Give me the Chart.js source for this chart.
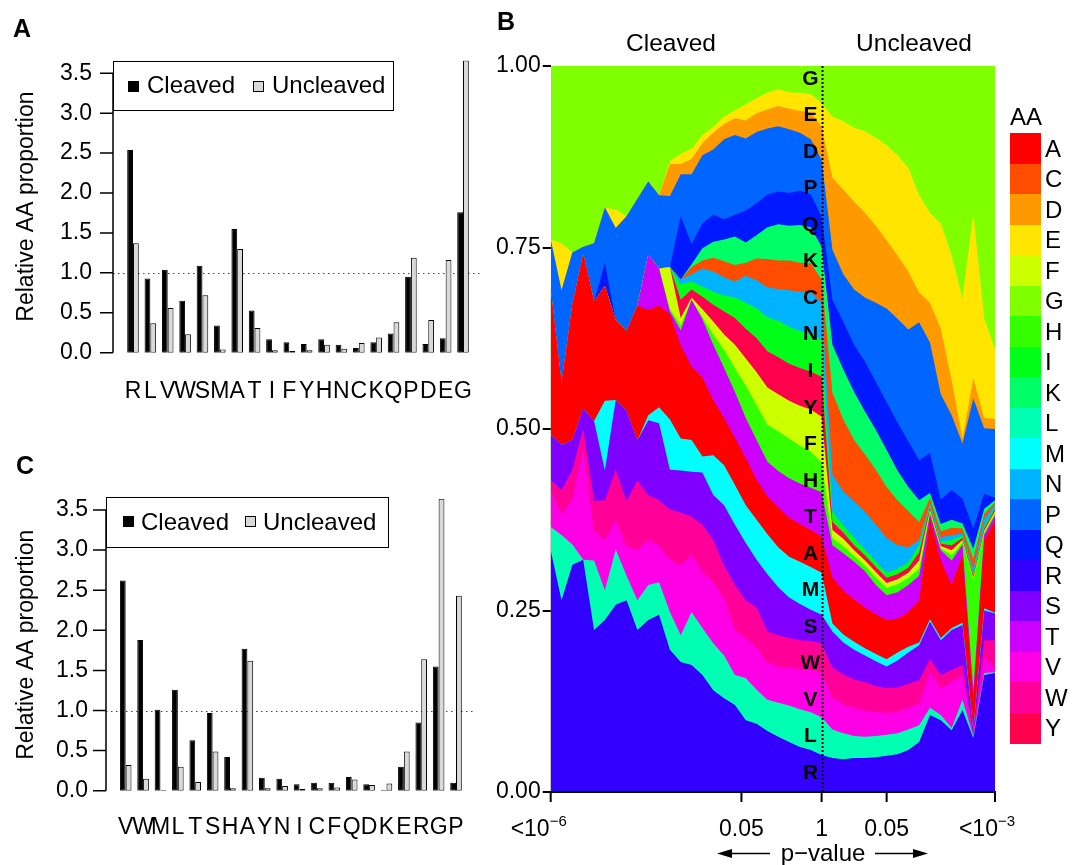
<!DOCTYPE html>
<html lang="en">
<head>
<meta charset="utf-8">
<title>Amino-acid composition of cleaved and uncleaved sites</title>
<script src="https://cdn.jsdelivr.net/npm/chart.js@4.4.1/dist/chart.umd.min.js"></script>
<style>
  html, body { margin:0; padding:0; background:#fff; }
  body { position:relative; width:1079px; height:865px; overflow:hidden;
         font-family:"Liberation Sans", Arial, Helvetica, sans-serif; color:#000; }
  canvas { position:absolute; left:0; top:0; }
  .t { position:absolute; white-space:nowrap; font-size:24px; line-height:24px; }
  .letter { font-weight:bold; font-size:25px; line-height:25px; }
  .box { position:absolute; border:1px solid #000; box-sizing:border-box; }
  .sw { position:absolute; width:11px; height:11px; box-sizing:border-box; border:1px solid #000; }
  .ctr { transform:translateX(-50%); }
</style>
</head>
<body>
<canvas id="chartA" width="1079" height="865"></canvas>
<canvas id="chartC" width="1079" height="865"></canvas>
<canvas id="chartB" width="1079" height="865"></canvas>

<div class="t letter" style="left:13px;top:16px">A</div>
<div class="t letter" style="left:497px;top:9px">B</div>
<div class="t letter" style="left:16px;top:453px">C</div>

<!-- legend of panel A -->
<div class="box" style="left:113px;top:61px;width:281px;height:50px"></div>
<div class="sw" style="left:128px;top:81px;background:#000"></div>
<div class="t" style="left:147px;top:73px">Cleaved</div>
<div class="sw" style="left:253px;top:81px;background:#d9d9d9"></div>
<div class="t" style="left:272px;top:73px">Uncleaved</div>

<!-- legend of panel C -->
<div class="box" style="left:106px;top:497px;width:283px;height:51px"></div>
<div class="sw" style="left:123px;top:516px;background:#000"></div>
<div class="t" style="left:141px;top:510px">Cleaved</div>
<div class="sw" style="left:245px;top:516px;background:#d9d9d9"></div>
<div class="t" style="left:263px;top:510px">Uncleaved</div>

<!-- panel B headings -->
<div class="t ctr" style="left:671px;top:31px;font-size:24.5px">Cleaved</div>
<div class="t ctr" style="left:914px;top:31px;font-size:24.5px">Uncleaved</div>
<div class="t ctr" style="left:823px;top:841px">p&minus;value</div>

<!-- colour key of panel B -->
<div class="t" style="left:1010px;top:105px">AA</div>
<div id="aaLegend"></div>

<script>
Chart.defaults.font.family = '"Liberation Sans", Arial, Helvetica, sans-serif';
Chart.defaults.color = '#000';

// ---------- Panel A: relative amino-acid proportion, first position ----------
const aaA        = ['R','L','V','W','S','M','A','T','I','F','Y','H','N','C','K','Q','P','D','E','G'];
const cleavedA   = [2.54,0.93,1.04,0.65,1.09,0.34,1.55,0.53,0.17,0.13,0.11,0.17,0.10,0.06,0.13,0.24,0.95,0.11,0.18,1.76];
const uncleavedA = [1.37,0.37,0.56,0.23,0.72,0.04,1.30,0.31,0.03,0.02,0.03,0.10,0.05,0.12,0.19,0.38,1.19,0.41,1.16,3.66];

// ---------- Panel C: relative amino-acid proportion, second position ----------
const aaC        = ['V','W','M','L','T','S','H','A','Y','N','I','C','F','Q','D','K','E','R','G','P'];
const cleavedC   = [2.62,1.88,1.01,1.26,0.63,0.97,0.42,1.77,0.16,0.15,0.08,0.10,0.10,0.17,0.08,0.01,0.30,0.85,1.55,0.10];
const uncleavedC = [0.32,0.15,0.01,0.30,0.11,0.49,0.03,1.62,0.03,0.06,0.02,0.03,0.04,0.14,0.07,0.09,0.49,1.64,3.64,2.43];

const barTicks = [0, 0.5, 1, 1.5, 2, 2.5, 3, 3.5];
const refLevel = 1;

// ---------- Panel B: AA proportions along the p-value axis ----------
const binPos = [0,1,2,3,4,5,6,7,8,9,10,11,12,13,14,15,16,17,18,19,20,21,22,23,24,25,26,27,28,29,30,31,32,33,34,35,36,37,38,39,40,41];
const xTickPos  = [0, 17.6, 25, 31, 41];
const xTickText = [['<10','\u22126'], ['0.05',''], ['1',''], ['0.05',''], ['<10','\u22123']];
const dividerPos = 25;

const stackOrder  = ['R','L','V','W','S','M','A','T','H','F','Y','I','N','C','K','Q','P','D','E','G'];
const legendOrder = ['A','C','D','E','F','G','H','I','K','L','M','N','P','Q','R','S','T','V','W','Y'];
const aaColors = {
  A:'#FF0000', C:'#FF4D00', D:'#FF9900', E:'#FFE500', F:'#CCFF00', G:'#80FF00', H:'#33FF00',
  I:'#00FF19', K:'#00FF66', L:'#00FFB2', M:'#00FFFF', N:'#00B3FF', P:'#0066FF', Q:'#0019FF',
  R:'#3300FF', S:'#8000FF', T:'#CC00FF', V:'#FF00E6', W:'#FF0099', Y:'#FF004D'
};

const propR = [.333,.264,.313,.320,.223,.237,.258,.264,.223,.237,.244,.196,.179,.175,.161,.140,.129,.120,.099,.094,.084,.076,.069,.062,.058,.051,.047,.045,.047,.047,.048,.050,.052,.058,.069,.106,.099,.085,.113,.074,.161,.164];
const propL = [.032,.090,.028,0,.096,.041,.076,.034,.041,.048,.045,.052,.037,.073,.065,.065,.059,.041,.058,.047,.043,.047,.050,.052,.052,.052,.039,.036,.030,.029,.029,.029,.029,.028,.023,.010,.007,.003,.014,.003,.003,.001];
const propV = [.051,.028,.062,.152,.041,.069,.041,.041,.069,.062,.051,.072,.096,.079,.077,.084,.079,.062,.055,.058,.051,.050,.052,.055,.058,.061,.044,.040,.039,.036,.033,.030,.030,.030,.030,.050,.037,.063,.034,.001,.022,.007];
const propW = [.014,.034,.041,.028,.041,.055,.069,.062,.096,.062,.062,.069,.073,.052,.065,.058,.045,.062,.052,.055,.043,.043,.041,.040,.040,.041,.041,.041,.039,.039,.036,.034,.033,.033,.032,.017,.018,.017,.014,.003,.023,.037];
const propS = [.062,.062,.041,.028,.110,.041,.096,.124,.055,.103,.106,.055,.058,.062,.072,.062,.083,.083,.079,.066,.079,.066,.056,.050,.043,.039,.050,.044,.041,.037,.034,.030,.037,.043,.048,.052,.048,.055,.055,.004,.041,.037];
const propM = [0,0,0,0,0,.096,0,0,0,.007,.022,.069,.044,.044,.022,.055,.055,.055,.052,.055,.055,.055,.056,.058,.059,.058,.011,.011,.011,.010,.010,.010,.011,.008,.004,.003,.003,.003,.003,.001,.003,.001];
const propA = [.200,.085,.186,.213,.165,.158,.110,.110,.186,.145,.140,.145,.128,.101,.109,.076,.065,.065,.065,.055,.052,.055,.054,.052,.051,.050,.063,.061,.058,.056,.055,.054,.047,.048,.058,.138,.107,.059,.094,.040,.094,.127];
const propT = [0,0,0,0,0,0,0,0,0,.076,.051,.004,.021,.092,.080,.076,.069,.063,.055,.055,.048,.050,.054,.056,.058,.061,.045,.051,.052,.050,.040,.034,.036,.037,.034,.007,.014,.034,.014,.014,.007,.007];
const propH = [0,0,0,0,0,0,0,0,0,0,0,.003,.007,0,.003,.014,.025,.033,.045,.048,.051,.055,.055,.052,.050,.041,.010,.010,.008,.008,.010,.010,.011,.010,.010,.003,.003,.007,.003,.152,.003,.003];
const propF = [0,0,0,0,0,0,0,0,0,0,0,.058,.010,.003,.011,.018,.021,.032,.037,.045,.051,.051,.052,.055,.058,.063,.011,.010,.008,.007,.008,.007,.007,.007,.011,.003,.003,.007,.003,.003,.003,.003];
const propY = [0,0,0,0,0,0,0,0,0,0,0,0,.025,.011,.017,.023,.032,.037,.041,.047,.050,.051,.051,.052,.052,.055,.011,.008,.007,.007,.007,.007,.007,.007,.011,.003,.003,.007,.003,.003,.003,.003];
const propI = [0,0,0,0,0,0,0,0,0,0,0,0,.021,.011,.014,.018,.022,.028,.036,.041,.047,.050,.051,.051,.051,.051,.014,.010,.010,.008,.007,.007,.007,.007,.010,.003,.003,.007,.003,.003,.003,.003];
const propN = [0,0,0,0,0,0,0,0,0,0,0,0,.007,.010,.025,.028,.025,.022,.037,.039,.041,.044,.050,.054,.058,.051,.051,.047,.050,.052,.051,.048,.033,.021,.007,.003,.006,.007,.003,.006,.010,.003];
const propC = [0,0,0,0,0,0,0,0,0,0,0,0,0,.010,.011,.019,.022,.023,.018,.030,.039,.039,.041,.040,.040,.032,.113,.099,.085,.079,.076,.070,.062,.050,.025,.007,.008,.010,.007,.014,.007,.003];
const propK = [0,0,0,0,0,0,0,0,0,0,0,0,0,.004,.017,.022,.030,.039,.028,.032,.044,.050,.048,.052,.050,.045,.066,.069,.066,.059,.055,.051,.041,.033,.030,.007,.010,.011,.007,.014,.007,.003];
const propQ = [0,0,0,0,0,.032,0,0,0,0,0,0,.087,.028,.034,.037,.028,.030,.044,.044,.045,.045,.045,.047,.045,.041,.062,.066,.065,.069,.066,.066,.066,.063,.055,.055,.034,.041,.034,.028,.021,.003];
const propP = [.069,.128,.072,.010,.080,.076,.127,.158,.147,.101,.101,.098,.058,.096,.094,.090,.110,.110,.099,.098,.091,.090,.088,.080,.076,.079,.069,.065,.076,.088,.109,.129,.143,.154,.190,.152,.145,.103,.076,.179,.090,.095];
const propD = [0,0,0,0,0,0,0,0,0,0,0,.044,.014,.021,.017,.023,.021,.023,.025,.026,.026,.028,.028,.030,.037,.045,.099,.117,.121,.117,.106,.094,.087,.080,.041,.055,.090,.048,.007,.028,.014,.014];
const propE = [0,.065,0,0,0,0,.025,0,0,0,0,.004,.014,.014,.011,.008,.010,.011,.022,.021,.023,.023,.023,.025,.025,.033,.084,.094,.102,.112,.121,.131,.138,.143,.134,.124,.145,.172,.193,.227,.138,.096];
const propG = [.241,.246,.259,.251,.246,.197,.200,.209,.185,.161,.180,.133,.123,.116,.097,.086,.072,.063,.055,.046,.039,.034,.038,.039,.041,.053,.072,.078,.087,.092,.101,.111,.125,.142,.180,.204,.219,.263,.322,.205,.349,.392];

const propByAA = { R:propR, L:propL, V:propV, W:propW, S:propS, M:propM, A:propA, T:propT, H:propH, F:propF,
                   Y:propY, I:propI, N:propN, C:propC, K:propK, Q:propQ, P:propP, D:propD, E:propE, G:propG };

// ---------- bar panels: y axis line, tick marks and reference line ----------
const barAxisDecor = {
  id: 'barAxisDecor',
  beforeDatasetsDraw(chart, args, opts) {
    const { ctx, scales: { y } } = chart;
    const py = Math.round(y.getPixelForValue(refLevel)) + 0.5;
    ctx.save();
    ctx.strokeStyle = '#444';
    ctx.lineWidth = 1;
    ctx.setLineDash([1.5, 3.5]);
    ctx.beginPath();
    ctx.moveTo(opts.axisX, py);
    ctx.lineTo(opts.lineEnd, py);
    ctx.stroke();
    ctx.restore();
  },
  afterDraw(chart, args, opts) {
    const { ctx, scales: { y } } = chart;
    const ax = opts.axisX;
    ctx.save();
    ctx.strokeStyle = '#000';
    ctx.lineWidth = 1.5;
    ctx.beginPath();
    ctx.moveTo(ax, y.getPixelForValue(barTicks[barTicks.length - 1]));
    ctx.lineTo(ax, y.getPixelForValue(barTicks[0]));
    barTicks.forEach(v => {
      const p = y.getPixelForValue(v);
      ctx.moveTo(ax - opts.tickLen, p);
      ctx.lineTo(ax, p);
    });
    ctx.stroke();
    ctx.restore();
  }
};

function makeBarChart(id, labels, cleaved, uncleaved, frame) {
  const yMax = Math.max(...cleaved, ...uncleaved);
  return new Chart(document.getElementById(id), {
    type: 'bar',
    data: {
      labels,
      datasets: [
        { label: 'Cleaved', data: cleaved, backgroundColor: '#000', borderColor: '#000', borderWidth: 1, borderSkipped: false },
        { label: 'Uncleaved', data: uncleaved, backgroundColor: '#d9d9d9', borderColor: '#000', borderWidth: 1, borderSkipped: false }
      ]
    },
    options: {
      responsive: false, animation: false, devicePixelRatio: 1, events: [],
      layout: { padding: { left: 0, top: frame.top, right: 1079 - frame.right, bottom: 865 - frame.bottom - 60 } },
      datasets: { bar: { categoryPercentage: 2 / 3, barPercentage: 1 } },
      plugins: { legend: { display: false }, tooltip: { enabled: false }, barAxisDecor: frame },
      scales: {
        x: {
          grid: { display: false, drawTicks: false }, border: { display: false },
          ticks: { font: { size: 23 }, padding: frame.labelGap, maxRotation: 0, minRotation: 0, autoSkip: false },
          afterFit: s => { s.height = 60; }
        },
        y: {
          min: 0, max: yMax,
          grid: { display: false, drawTicks: false }, border: { display: false },
          ticks: { font: { size: 23 }, padding: frame.left - frame.labelRight, callback: v => v.toFixed(1) },
          afterBuildTicks: s => { s.ticks = barTicks.map(v => ({ value: v })); },
          afterFit: s => { s.width = frame.left; },
          title: { display: true, text: 'Relative AA proportion', font: { size: 23 }, padding: { top: 13, bottom: 0 } }
        }
      }
    },
    plugins: [barAxisDecor]
  });
}

makeBarChart('chartA', aaA, cleavedA, uncleavedA,
  { left: 124.3, right: 471.7, top: 60.5, bottom: 352.7, axisX: 113, lineEnd: 483, tickLen: 13, labelRight: 92, labelGap: 25 });
makeBarChart('chartC', aaC, cleavedC, uncleavedC,
  { left: 117, right: 464.7, top: 498.8, bottom: 790.7, axisX: 106, lineEnd: 475, tickLen: 13, labelRight: 88, labelGap: 23 });

// ---------- panel B: divider, residue letters, p-value axis ----------
const FONT = '"Liberation Sans", Arial, Helvetica, sans-serif';
const panelBDecor = {
  id: 'panelBDecor',
  afterDraw(chart) {
    const { ctx, chartArea: a, scales: { x } } = chart;
    ctx.save();
    const dx = Math.round(x.getPixelForValue(dividerPos)) + 0.5;
    ctx.strokeStyle = '#000';
    ctx.lineWidth = 2;
    ctx.setLineDash([2, 2]);
    ctx.beginPath();
    ctx.moveTo(dx, a.top);
    ctx.lineTo(dx, a.bottom);
    ctx.stroke();
    ctx.setLineDash([]);

    // residue letters next to the divider, top of the stack first
    ctx.fillStyle = '#000';
    ctx.font = 'bold 21px ' + FONT;
    ctx.textAlign = 'center';
    ctx.textBaseline = 'middle';
    stackOrder.slice().reverse().forEach((aa, i) => {
      ctx.fillText(aa, dx - 12, a.top + a.height * (0.018 + i * 0.0503));
    });

    // x tick marks and labels
    ctx.lineWidth = 2;
    const shift = [-12, 0, 0, 0, -8];
    xTickPos.forEach((v, i) => {
      const px = x.getPixelForValue(v);
      ctx.beginPath();
      ctx.moveTo(px, a.bottom);
      ctx.lineTo(px, a.bottom + 10);
      ctx.stroke();
      const [base, sup] = xTickText[i];
      ctx.font = '23px ' + FONT;
      const wb = ctx.measureText(base).width;
      ctx.font = '15px ' + FONT;
      const ws = sup ? ctx.measureText(sup).width : 0;
      const left = px + shift[i] - (wb + ws) / 2;
      ctx.textAlign = 'left';
      ctx.textBaseline = 'alphabetic';
      ctx.font = '23px ' + FONT;
      ctx.fillText(base, left, 836);
      if (sup) {
        ctx.font = '15px ' + FONT;
        ctx.fillText(sup, left + wb, 826);
      }
    });

    // arrows either side of the p-value caption
    const ay = 853.5;
    ctx.lineWidth = 1.6;
    ctx.beginPath();
    ctx.moveTo(770, ay); ctx.lineTo(728, ay);
    ctx.moveTo(875, ay); ctx.lineTo(917, ay);
    ctx.stroke();
    ctx.beginPath();
    ctx.moveTo(717, ay); ctx.lineTo(732, ay - 4.5); ctx.lineTo(732, ay + 4.5); ctx.closePath();
    ctx.moveTo(928, ay); ctx.lineTo(913, ay - 4.5); ctx.lineTo(913, ay + 4.5); ctx.closePath();
    ctx.fill();
    ctx.restore();
  }
};

new Chart(document.getElementById('chartB'), {
  type: 'line',
  data: {
    datasets: stackOrder.map(aa => ({
      label: aa,
      data: propByAA[aa].map((v, i) => ({ x: binPos[i], y: v })),
      backgroundColor: aaColors[aa],
      borderColor: 'rgba(0,0,0,0)',
      borderWidth: 0,
      pointRadius: 0,
      pointHoverRadius: 0,
      fill: 'origin',
      tension: 0
    }))
  },
  options: {
    responsive: false, animation: false, devicePixelRatio: 1, events: [],
    layout: { padding: { left: 0, top: 66, right: 1079 - 995, bottom: 0 } },
    plugins: { legend: { display: false }, tooltip: { enabled: false } },
    scales: {
      x: {
        type: 'linear', min: binPos[0], max: binPos[binPos.length - 1],
        grid: { display: false, drawTicks: false },
        border: { display: true, color: '#000', width: 2, z: 1 },
        ticks: { display: false },
        afterFit: s => { s.height = 865 - 792; }
      },
      y: {
        stacked: true, min: 0, max: 1,
        grid: { display: true, drawOnChartArea: false, drawTicks: true, tickLength: 8, color: '#000', lineWidth: 2 },
        border: { display: false },
        ticks: { stepSize: 0.25, padding: 2, font: { size: 23 }, callback: v => v.toFixed(2) },
        afterFit: s => { s.width = 550.7; }
      }
    }
  },
  plugins: [panelBDecor]
});

// ---------- colour key ----------
const host = document.getElementById('aaLegend');
legendOrder.forEach((aa, i) => {
  const top = 133 + i * 30.5;
  const sw = document.createElement('div');
  sw.style.cssText = `position:absolute;left:1010px;top:${top}px;width:31px;height:31px;background:${aaColors[aa]}`;
  host.appendChild(sw);
  const lab = document.createElement('div');
  lab.className = 't';
  lab.style.left = '1045px';
  lab.style.top = (top + 15.25 - 11.7) + 'px';
  lab.textContent = aa;
  host.appendChild(lab);
});
</script>
</body>
</html>
